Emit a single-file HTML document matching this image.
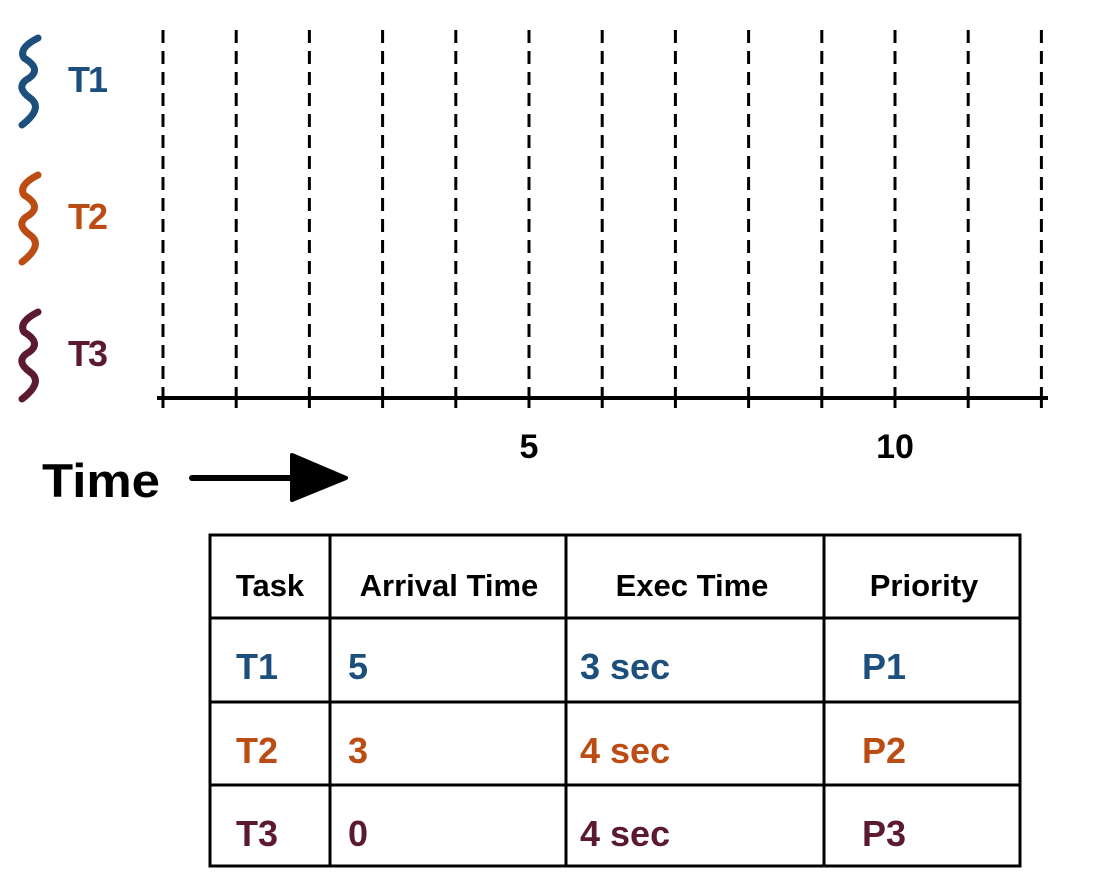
<!DOCTYPE html>
<html><head><meta charset="utf-8"><style>
body{margin:0;background:#fff;width:1093px;height:895px;overflow:hidden;font-family:"Liberation Sans",sans-serif}
svg{position:absolute;left:0;top:0}
</style></head><body>
<svg width="1093" height="895">
<g id="grid"></g>
<line x1="157" y1="398" x2="1048" y2="398" stroke="#000" stroke-width="4"/>
<g id="labels"></g>
<text x="42" y="497" font-size="47" font-weight="bold" fill="#000" textLength="118" lengthAdjust="spacingAndGlyphs">Time</text>
<line x1="192" y1="478" x2="300" y2="478" stroke="#000" stroke-width="6" stroke-linecap="round"/>
<polygon points="292,455 346,478 292,500" fill="#000" stroke="#000" stroke-width="4" stroke-linejoin="round"/>
<g id="threads"></g>
<g id="table"></g>
</svg>
<script>
const ticks=[0,1,2,3,4,5,6,7,8,9,10,11,12];
const tickLabels=[5,10];
const threadNames=["T1","T2","T3"];
const threadColors=["#1c4f7c","#bb4d14","#5c1a2f"];
const headers=["Task","Arrival Time","Exec Time","Priority"];
const arrival=[5,3,0];
const execTime=["3 sec","4 sec","4 sec"];
const priority=["P1","P2","P3"];
const NS="http://www.w3.org/2000/svg";
function mk(t,a,p){const e=document.createElementNS(NS,t);for(const k in a)e.setAttribute(k,a[k]);p.appendChild(e);return e;}
const xs=v=>163+v*73.2;
const grid=document.getElementById('grid');
ticks.forEach(v=>{
 const l=mk('line',{x1:xs(v),x2:xs(v),y1:30,y2:390,stroke:'#000','stroke-width':3,'stroke-dasharray':'13 8'},grid);
 
 
 const t=mk('line',{x1:xs(v),x2:xs(v),y1:390,y2:408,stroke:'#000','stroke-width':3},grid);
 
 
});
const lab=document.getElementById('labels');
tickLabels.forEach(v=>{
 const t=mk('text',{x:xs(v),y:458,'font-size':34,'font-weight':'bold','text-anchor':'middle'},lab);
 t.textContent=v;
 
 
});
const th=document.getElementById('threads');
threadNames.forEach((n,i)=>{
 const y=30+i*137;
 const p=mk('path',{d:`M38 ${y+8} Q18 ${y+18} 24 ${y+28} Q44 ${y+40} 26 ${y+50} Q16 ${y+58} 30 ${y+68} Q44 ${y+78} 22 ${y+95}`,fill:'none',stroke:threadColors[i],'stroke-width':7,'stroke-linecap':'round','stroke-linejoin':'round'},th);
 
 
 const t=mk('text',{x:68,y:y+62,'font-size':36,'font-weight':'bold',fill:threadColors[i],textLength:40},th);
 t.textContent=n;
 
 
});
const tb=document.getElementById('table');
const cx=[210,330,566,824,1020], ry=[535,618,702,785,866];
mk('rect',{x:210,y:535,width:810,height:331,fill:'none',stroke:'#000','stroke-width':3},tb);
cx.slice(1,4).forEach(x=>mk('line',{x1:x,x2:x,y1:535,y2:866,stroke:'#000','stroke-width':3},tb));
ry.slice(1,4).forEach(y=>mk('line',{x1:210,x2:1020,y1:y,y2:y,stroke:'#000','stroke-width':3},tb));
const hx=[270,449,692,924];
headers.forEach((h,i)=>{
 const t=mk('text',{x:hx[i],y:596,'font-size':31,'font-weight':'bold','text-anchor':'middle'},tb);
 t.textContent=h;
 
 
});
threadNames.forEach((n,i)=>{
 const y=ry[i+1]+61;
 [[n,236],[arrival[i],348],[execTime[i],580],[priority[i],862]].forEach(([v,x])=>{
  const t=mk('text',{x:x,y:y,'font-size':36,'font-weight':'bold',fill:threadColors[i]},tb);
  t.textContent=v;
  
  
 });
});
</script>
</body></html>
